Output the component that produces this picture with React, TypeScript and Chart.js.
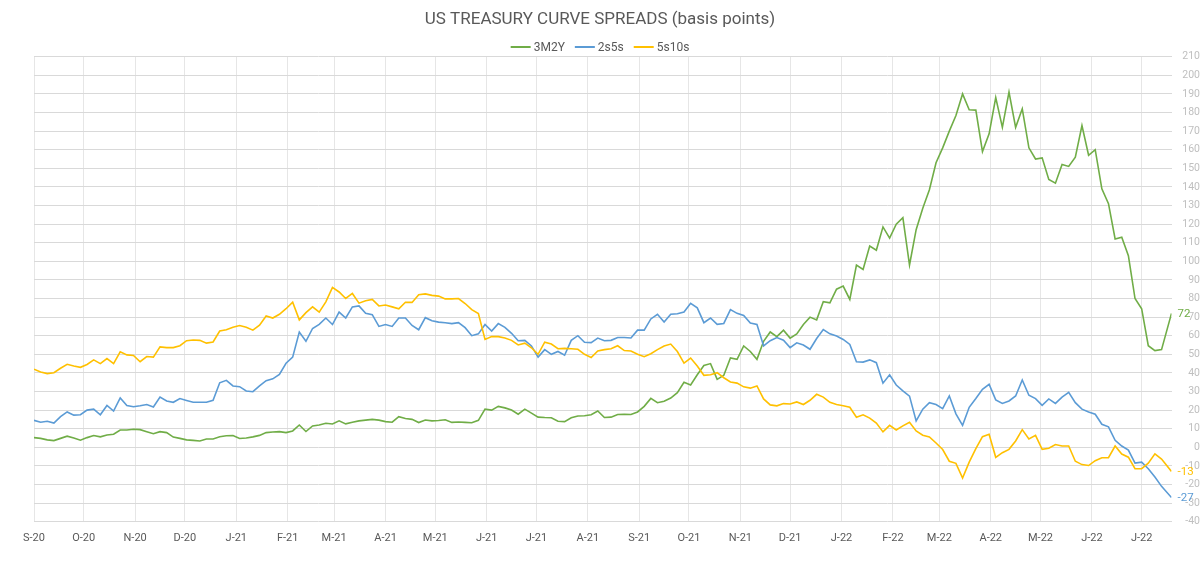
import React, { useEffect, useRef } from "react";
import { Chart, registerables } from "chart.js";

Chart.register(...registerables);

// Day offsets (from 1 Sep 2020) of the first day of each month shown on the axis
const MONTH_START_DAYS = [0, 30, 61, 91, 122, 153, 181, 212, 242, 273, 303, 334, 365, 395, 426, 456, 487, 518, 546, 577, 607, 638, 668];
const MONTH_LABELS = ["S-20", "O-20", "N-20", "D-20", "J-21", "F-21", "M-21", "A-21", "M-21", "J-21", "J-21", "A-21", "S-21", "O-21", "N-21", "D-21", "J-22", "F-22", "M-22", "A-22", "M-22", "J-22", "J-22"];

// Observations every 4 calendar days from 1 Sep 2020; the last one is 18 Jul 2022 (day 686)
const SAMPLE_STEP_DAYS = 4;
const LAST_SAMPLE_DAY = 686;

const Y_MIN = -40;
const Y_MAX = 210;
const Y_STEP = 10;

// 3-month / 2-year spread, basis points
const spread3M2Y = [
  5.2, 4.8, 4, 3.6, 4.8, 6, 5, 3.8, 5.2, 6.3,
  5.6, 6.6, 7, 9.3, 9.3, 9.7, 9.5, 8.4, 7.3, 8.4,
  7.9, 5.5, 4.8, 4, 3.7, 3.4, 4.5, 4.5, 5.7, 6.2,
  6.3, 4.7, 5, 5.6, 6.4, 7.9, 8.2, 8.4, 7.9, 8.8,
  12, 8.5, 11.5, 12, 12.9, 12.5, 14.2, 12.6, 13.5, 14.2,
  14.6, 15, 14.6, 13.8, 13.5, 16.5, 15.5, 15, 13.3, 14.7,
  14.2, 14.4, 14.8, 13.4, 13.6, 13.4, 13.2, 14.5, 20.5, 20,
  22, 21.2, 20, 17.8, 20.5, 18.4, 16.2, 16, 15.9, 14,
  13.8, 15.9, 16.8, 17, 17.5, 19.5, 16, 16.2, 17.6, 17.8,
  17.6, 19, 22, 26.3, 24, 24.8, 26.5, 29.4, 35, 33.5,
  39, 44, 45, 36.5, 38.7, 48, 47.3, 54.5, 51.5, 47.3,
  57, 62, 59.5, 63, 58.7, 61, 66, 70, 68.5, 78.3,
  77.7, 85, 86.7, 79.5, 98, 95.6, 108.2, 106, 118.5, 112.5,
  120, 123.5, 98, 117, 128.5, 138.5, 153, 161, 170, 178.4,
  190, 181.5, 181.3, 159, 168.5, 188, 172, 191, 172, 182,
  161, 155, 155.6, 144, 142, 152, 151, 156, 173, 157,
  160, 139, 131, 112, 113, 103, 80, 74.5, 54.6, 52,
  52.5, 72,
];

// 2-year / 5-year spread, basis points
const spread2s5s = [
  14.5, 13.5, 14, 13, 16.5, 19, 17.3, 17.5, 20, 20.5,
  17.5, 22.5, 19.5, 26.5, 22.5, 21.8, 22.3, 23, 21.7, 27,
  24.9, 24.2, 26.2, 25.2, 24.2, 24.2, 24.2, 25.3, 34.7, 36,
  33, 32.6, 30.3, 29.9, 33, 35.8, 36.8, 39.2, 45.2, 48.5,
  62, 57, 63.9, 66.1, 69.5, 66, 72.7, 69.5, 75.5, 76,
  72, 71.3, 65, 66, 65, 69.5, 69.5, 65.5, 63.2, 69.7,
  68, 67.3, 67, 66.5, 67, 64.3, 60, 61, 66, 62.5,
  66.5, 64.5, 61.3, 57.3, 57.5, 54.5, 48.5, 52.5, 50, 51.5,
  49.5, 57.5, 60, 56.5, 56.3, 58.7, 57.3, 57.5, 59, 59,
  58.8, 63, 63, 69, 71.5, 67.3, 71.5, 71.8, 72.7, 77.4,
  75, 67, 69.5, 66.1, 66.6, 74, 72, 70.9, 66.8, 66,
  54.5, 57.3, 59, 57.6, 53.6, 56.2, 55, 52.7, 58.5, 63.3,
  61, 59.8, 58, 55.3, 46, 45.8, 47, 45.5, 34.5, 39,
  33.5, 30.3, 27.5, 14.2, 20.5, 24, 23, 20.8, 27.6, 18,
  11.8, 21.5, 26.2, 31.2, 33.9, 25.5, 23.6, 24.9, 27.6, 36.2,
  28, 26.2, 22.6, 26, 23.6, 27, 29.5, 24, 20.5, 19,
  17.8, 12.4, 11, 3.8, 0.7, -1.5, -8.5, -8, -11.5, -16,
  -21, -27,
];

// 5-year / 10-year spread, basis points
const spread5s10s = [
  42, 40.5, 39.6, 40.1, 42.5, 44.6, 43.7, 43, 44.5, 47,
  45, 47.7, 45, 51.3, 49.7, 49.4, 46, 48.8, 48.5, 54,
  53.6, 53.6, 54.6, 57.3, 57.7, 57.5, 56, 56.6, 62.5, 63.2,
  64.6, 65.5, 64.5, 63, 65.7, 70.6, 69.5, 71.5, 74.5, 78,
  68.5, 72.4, 75.5, 72.7, 78.2, 86, 83.5, 80, 82.7, 77.5,
  78.8, 79.5, 76, 76.5, 75.5, 74.5, 78, 77.9, 82, 82.5,
  81.7, 81.3, 79.8, 79.8, 80, 77.3, 74, 71.9, 58, 59.5,
  59.5, 58.8, 57.5, 55, 56, 53.5, 50, 56.5, 55.5, 53,
  53.2, 53, 52.7, 50, 48.3, 51.8, 52.5, 53, 54.6, 52,
  51.8, 50, 48.7, 50.3, 52.5, 54.5, 55.5, 51.5, 45.3, 48,
  43.7, 38.7, 39, 40.1, 37.4, 35.1, 34.5, 32.5, 31.8, 33,
  26, 22.8, 22.3, 23.5, 23.3, 24.4, 23, 25.3, 28.5, 27,
  24.2, 23, 22.3, 21.5, 16.2, 17.5, 15.7, 13, 8.3, 11.8,
  9.3, 11.5, 13.5, 8.8, 6.5, 5.6, 2.3, -1.2, -7.5, -8.6,
  -16.5, -8, -0.7, 5.7, 7, -5.4, -2.9, -1.1, 3.4, 9.5,
  4.5, 6.4, -1.1, -0.5, 1.5, 0.7, 0.7, -7.5, -9.3, -9.8,
  -7.2, -5.6, -5.6, 0.7, -3.6, -5.3, -11.5, -11.5, -8.5, -3.5,
  -6.3, -13,
];

const SERIES_NAMES = ["3M2Y", "2s5s", "5s10s"];
const SERIES_COLORS = ["#70ad47", "#5b9bd5", "#ffc000"];

const CHART_TITLE = "US TREASURY CURVE SPREADS (basis points)";
const FONT = "Roboto, sans-serif";
const LEGEND_Y = 47;

function toPoints(values: number[]) {
  return values.map((y, i) => ({
    x: i === values.length - 1 ? LAST_SAMPLE_DAY : i * SAMPLE_STEP_DAYS,
    y,
  }));
}

// Horizontal legend with short line markers, centred above the plot
const lineLegend = {
  id: "lineLegend",
  afterDraw(chart: any) {
    const ctx = chart.ctx as CanvasRenderingContext2D;
    const LINE = 20;
    const GAP = 3;
    const SPACING = 10;
    ctx.save();
    ctx.font = `12px ${FONT}`;
    ctx.textBaseline = "middle";
    ctx.textAlign = "left";
    const items = chart.data.datasets.map((ds: any) => ({
      label: ds.label as string,
      color: ds.borderColor as string,
      w: ctx.measureText(ds.label).width,
    }));
    const total =
      items.reduce((s: number, it: any) => s + LINE + GAP + it.w, 0) + SPACING * (items.length - 1);
    let x = chart.width / 2 - total / 2;
    for (const it of items) {
      ctx.strokeStyle = it.color;
      ctx.lineWidth = 2;
      ctx.beginPath();
      ctx.moveTo(x, LEGEND_Y);
      ctx.lineTo(x + LINE, LEGEND_Y);
      ctx.stroke();
      ctx.fillStyle = "#595959";
      ctx.fillText(it.label, x + LINE + GAP, LEGEND_Y + 0.5);
      x += LINE + GAP + it.w + SPACING;
    }
    ctx.restore();
  },
};

// Value of the latest observation written just right of each line's end
const endLabels = {
  id: "endLabels",
  afterDraw(chart: any) {
    const ctx = chart.ctx as CanvasRenderingContext2D;
    ctx.save();
    ctx.font = `11.5px ${FONT}`;
    ctx.textAlign = "left";
    ctx.textBaseline = "middle";
    chart.data.datasets.forEach((ds: any, i: number) => {
      const meta = chart.getDatasetMeta(i);
      const el = meta.data[meta.data.length - 1];
      const last = ds.data[ds.data.length - 1];
      ctx.fillStyle = ds.borderColor;
      ctx.fillText(String(last.y), el.x + 6, el.y + 1);
    });
    ctx.restore();
  },
};

export default function App() {
  const canvasRef = useRef<HTMLCanvasElement>(null);

  useEffect(() => {
    document.body.style.margin = "0";
    const canvas = canvasRef.current;
    if (!canvas) return;

    const seriesValues = [spread3M2Y, spread2s5s, spread5s10s];
    const chart = new Chart(canvas, {
      type: "line",
      data: {
        datasets: seriesValues.map((values, i) => ({
          label: SERIES_NAMES[i],
          data: toPoints(values),
          borderColor: SERIES_COLORS[i],
          backgroundColor: SERIES_COLORS[i],
          borderWidth: 1.6,
          pointRadius: 0,
          pointHoverRadius: 0,
          tension: 0,
          fill: false,
          yAxisID: "y",
          order: seriesValues.length - i,
        })),
      },
      plugins: [lineLegend, endLabels],
      options: {
        responsive: false,
        animation: false,
        events: [],
        layout: { padding: 0 },
        plugins: {
          legend: { display: false },
          tooltip: { enabled: false },
          title: {
            display: true,
            text: CHART_TITLE,
            color: "#595959",
            font: { family: FONT, size: 17, weight: "normal" },
            padding: { top: 9.5, bottom: 26.8 },
          },
        },
        scales: {
          x: {
            type: "linear",
            min: 0,
            max: LAST_SAMPLE_DAY,
            position: "bottom",
            afterBuildTicks: (scale: any) => {
              scale.ticks = MONTH_START_DAYS.map((value) => ({ value }));
            },
            afterFit: (scale: any) => {
              scale.height = 43.3;
            },
            ticks: {
              autoSkip: false,
              maxRotation: 0,
              minRotation: 0,
              padding: 9.5,
              color: "#595959",
              font: { family: FONT, size: 11 },
              callback: (_v: any, i: number) => MONTH_LABELS[i],
            },
            grid: { color: "#e6e6e6", lineWidth: 1, drawTicks: false },
            border: { display: false },
          },
          // blank left margin so the plot starts where the first month line sits
          leftMargin: {
            type: "linear",
            position: "left",
            afterFit: (scale: any) => {
              scale.width = 34;
            },
            ticks: { display: false },
            grid: { display: false, drawTicks: false },
            border: { display: false },
          },
          y: {
            type: "linear",
            position: "right",
            min: Y_MIN,
            max: Y_MAX,
            afterFit: (scale: any) => {
              scale.width = 28.5;
            },
            ticks: {
              stepSize: Y_STEP,
              autoSkip: false,
              padding: 6.5,
              crossAlign: "far",
              color: "#bfbfbf",
              font: { family: FONT, size: 10.5 },
            },
            grid: { color: "#d9d9d9", lineWidth: 1, drawTicks: false },
            border: { display: false },
          },
        },
      },
    } as any);

    return () => chart.destroy();
  }, []);

  return (
    <div style={{ width: 1200, height: 565, background: "#ffffff" }}>
      <canvas ref={canvasRef} width={1200} height={565} style={{ display: "block" }} />
    </div>
  );
}
